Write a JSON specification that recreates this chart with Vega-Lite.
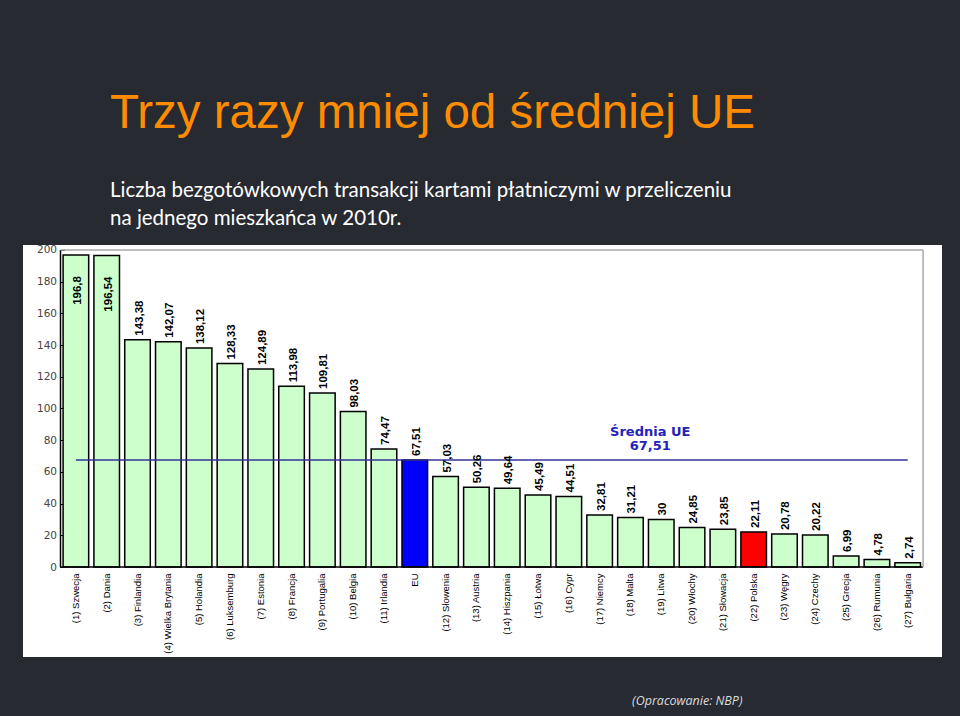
{
  "$schema": "https://vega.github.io/schema/vega-lite/v6.json",
  "autosize": {"type": "none"},
  "width": 919,
  "height": 412,
  "padding": {"left": 23, "top": 245, "right": 18, "bottom": 59},
  "background": "#272a31",
  "title": {
    "text": "Trzy razy mniej od średniej UE",
    "subtitle": ["Liczba bezgotówkowych transakcji kartami płatniczymi w przeliczeniu", "na jednego mieszkańca w 2010r."],
    "anchor": "start",
    "frame": "group",
    "dx": 87,
    "offset": 15,
    "color": "#ff8c00",
    "font": "Liberation Sans",
    "fontSize": 47.5,
    "fontWeight": "normal",
    "subtitleColor": "#ffffff",
    "subtitleFont": "Lato",
    "subtitleFontSize": 20.5,
    "subtitleLineHeight": 28,
    "subtitlePadding": 44
  },
  "config": {
    "view": {"fill": "white", "stroke": null}
  },
  "data": {
    "values": [
      {"country": "(1) Szwecja", "value": 196.8, "label": "196,8", "kind": "kraj"},
      {"country": "(2) Dania", "value": 196.54, "label": "196,54", "kind": "kraj"},
      {"country": "(3) Finlandia", "value": 143.38, "label": "143,38", "kind": "kraj"},
      {"country": "(4) Wielka Brytania", "value": 142.07, "label": "142,07", "kind": "kraj"},
      {"country": "(5) Holandia", "value": 138.12, "label": "138,12", "kind": "kraj"},
      {"country": "(6) Luksemburg", "value": 128.33, "label": "128,33", "kind": "kraj"},
      {"country": "(7) Estonia", "value": 124.89, "label": "124,89", "kind": "kraj"},
      {"country": "(8) Francja", "value": 113.98, "label": "113,98", "kind": "kraj"},
      {"country": "(9) Portugalia", "value": 109.81, "label": "109,81", "kind": "kraj"},
      {"country": "(10) Belgia", "value": 98.03, "label": "98,03", "kind": "kraj"},
      {"country": "(11) Irlandia", "value": 74.47, "label": "74,47", "kind": "kraj"},
      {"country": "EU", "value": 67.51, "label": "67,51", "kind": "EU"},
      {"country": "(12) Słowenia", "value": 57.03, "label": "57,03", "kind": "kraj"},
      {"country": "(13) Austria", "value": 50.26, "label": "50,26", "kind": "kraj"},
      {"country": "(14) Hiszpania", "value": 49.64, "label": "49,64", "kind": "kraj"},
      {"country": "(15) Łotwa", "value": 45.49, "label": "45,49", "kind": "kraj"},
      {"country": "(16) Cypr", "value": 44.51, "label": "44,51", "kind": "kraj"},
      {"country": "(17) Niemcy", "value": 32.81, "label": "32,81", "kind": "kraj"},
      {"country": "(18) Malta", "value": 31.21, "label": "31,21", "kind": "kraj"},
      {"country": "(19) Litwa", "value": 30, "label": "30", "kind": "kraj"},
      {"country": "(20) Włochy", "value": 24.85, "label": "24,85", "kind": "kraj"},
      {"country": "(21) Słowacja", "value": 23.85, "label": "23,85", "kind": "kraj"},
      {"country": "(22) Polska", "value": 22.11, "label": "22,11", "kind": "Polska"},
      {"country": "(23) Węgry", "value": 20.78, "label": "20,78", "kind": "kraj"},
      {"country": "(24) Czechy", "value": 20.22, "label": "20,22", "kind": "kraj"},
      {"country": "(25) Grecja", "value": 6.99, "label": "6,99", "kind": "kraj"},
      {"country": "(26) Rumunia", "value": 4.78, "label": "4,78", "kind": "kraj"},
      {"country": "(27) Bułgaria", "value": 2.74, "label": "2,74", "kind": "kraj"}
    ]
  },
  "encoding": {
    "x": {
      "field": "country",
      "type": "nominal",
      "sort": null,
      "scale": {"paddingInner": 0.17, "paddingOuter": 1.105, "align": 0.651},
      "axis": {
        "orient": "bottom",
        "offset": -90,
        "labelAngle": -90,
        "labelFont": "Liberation Sans",
        "labelFontSize": 9.5,
        "labelColor": "#000000",
        "labelPadding": 6,
        "ticks": false,
        "tickSize": 0,
        "domain": false,
        "title": "(Opracowanie: NBP)",
        "titleFont": "Open Sans",
        "titleFontStyle": "italic",
        "titleFontWeight": "normal",
        "titleFontSize": 12.5,
        "titleColor": "#dcdcdc",
        "titleX": 719,
        "titleY": 133,
        "titleAlign": "right",
        "titleBaseline": "middle"
      }
    }
  },
  "layer": [
    {
      "mark": {"type": "bar", "stroke": "#000000", "strokeWidth": 1.5},
      "encoding": {
        "y": {
          "field": "value",
          "type": "quantitative",
          "scale": {"domain": [-56.78, 203.15], "nice": false, "zero": false},
          "axis": {
            "orient": "left",
            "offset": -41.5,
            "values": [0, 20, 40, 60, 80, 100, 120, 140, 160, 180, 200],
            "domain": false,
            "grid": false,
            "ticks": true,
            "tickSize": 5,
            "tickColor": "#000000",
            "labelFont": "DejaVu Sans",
            "labelFontSize": 10.5,
            "labelColor": "#444444",
            "labelPadding": 3,
            "title": null
          }
        },
        "y2": {"datum": 0},
        "fill": {
          "field": "kind",
          "type": "nominal",
          "scale": {"domain": ["kraj", "EU", "Polska"], "range": ["#ccffcc", "#0000ff", "#ff0000"]},
          "legend": null
        }
      }
    },
    {
      "data": {"values": [{}]},
      "mark": {"type": "rule", "color": "#000000", "strokeWidth": 1.5},
      "encoding": {
        "x": {"datum": "(1) Szwecja", "bandPosition": -0.102},
        "y": {"datum": 0},
        "y2": {"datum": 200}
      }
    },
    {
      "data": {"values": [{}]},
      "mark": {"type": "rule", "color": "#000000", "strokeWidth": 1.5},
      "encoding": {
        "x": {"datum": "(1) Szwecja", "bandPosition": -0.102},
        "x2": {"datum": "(27) Bułgaria", "bandPosition": 1.102},
        "y": {"datum": 0}
      }
    },
    {
      "data": {"values": [{}]},
      "mark": {"type": "rule", "color": "#a8a8a8", "strokeWidth": 1.5},
      "encoding": {
        "x": {"datum": "(1) Szwecja", "bandPosition": -0.102},
        "x2": {"datum": "(27) Bułgaria", "bandPosition": 1.102},
        "y": {"datum": 200}
      }
    },
    {
      "data": {"values": [{}]},
      "mark": {"type": "rule", "color": "#a8a8a8", "strokeWidth": 1.5},
      "encoding": {
        "x": {"datum": "(27) Bułgaria", "bandPosition": 1.102},
        "y": {"datum": 0},
        "y2": {"datum": 200}
      }
    },
    {
      "data": {"values": [{"avg": 67.51}]},
      "mark": {"type": "rule", "color": "#333399", "strokeWidth": 1.5},
      "encoding": {
        "x": {"datum": "(1) Szwecja"},
        "x2": {"datum": "(27) Bułgaria"},
        "y": {"field": "avg", "type": "quantitative"}
      }
    },
    {
      "data": {"values": [{"avg": 67.51}]},
      "mark": {
        "type": "text",
        "text": ["Średnia UE", "67,51"],
        "font": "DejaVu Sans",
        "fontWeight": "bold",
        "fontSize": 13,
        "lineHeight": 14,
        "color": "#2222bb",
        "align": "center",
        "baseline": "bottom",
        "dx": -11,
        "dy": -21
      },
      "encoding": {
        "x": {"datum": "(19) Litwa"},
        "y": {"field": "avg", "type": "quantitative"}
      }
    },
    {
      "transform": [{"filter": "datum.value < 180"}],
      "mark": {
        "type": "text",
        "angle": -90,
        "align": "left",
        "baseline": "middle",
        "dx": 4,
        "dy": 2,
        "font": "Liberation Sans",
        "fontWeight": "bold",
        "fontSize": 11.5,
        "color": "#000000"
      },
      "encoding": {
        "y": {"field": "value", "type": "quantitative"},
        "text": {"field": "label"}
      }
    },
    {
      "transform": [{"filter": "datum.value >= 180"}],
      "mark": {
        "type": "text",
        "angle": -90,
        "align": "right",
        "baseline": "middle",
        "dx": -21,
        "dy": 2,
        "font": "Liberation Sans",
        "fontWeight": "bold",
        "fontSize": 11.5,
        "color": "#000000"
      },
      "encoding": {
        "y": {"field": "value", "type": "quantitative"},
        "text": {"field": "label"}
      }
    }
  ]
}
